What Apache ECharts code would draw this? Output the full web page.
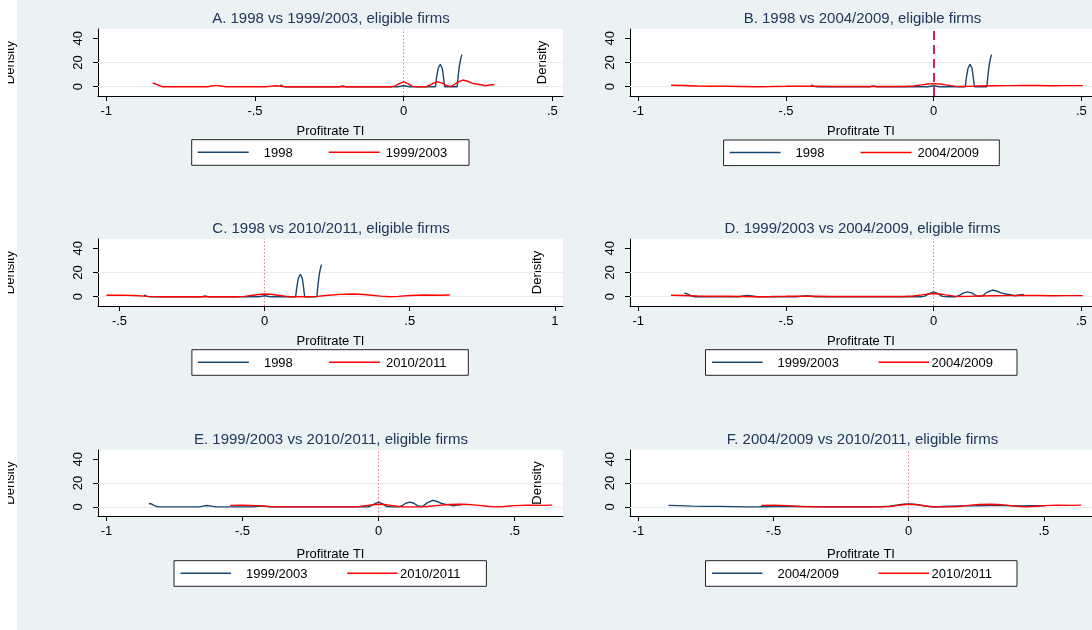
<!DOCTYPE html>
<html><head><meta charset="utf-8">
<script src="https://cdn.jsdelivr.net/npm/echarts@6/dist/echarts.min.js"></script>
<style>html,body{margin:0;padding:0;background:#fff}#c{width:1092px;height:630px}</style>
</head><body><div id="c"></div>
<script>
// ---------------- data ----------------
const x1998 = [-0.415,-0.405,-0.395,-0.30,-0.215,-0.205,-0.195,-0.10,-0.02,0.0,0.02,0.10,0.107,0.111,0.116,0.123,0.130,0.134,0.138,0.18,0.184,0.188,0.192,0.196];
const d1998 = [1.5,0.3,0,0,0,0.6,0,0,0,0.8,0,0,0,8,15,18.5,15,8,0,0,10,18,23,26.5];

const x9903 = [-0.844,-0.835,-0.825,-0.812,-0.70,-0.66,-0.645,-0.631,-0.615,-0.597,-0.50,-0.463,-0.445,-0.43,-0.415,-0.40,-0.30,-0.20,-0.10,-0.04,-0.03,-0.015,0.0,0.015,0.029,0.05,0.076,0.09,0.10,0.115,0.13,0.143,0.155,0.165,0.18,0.199,0.215,0.23,0.244,0.26,0.275,0.29,0.305];
const d9903 = [2.8,2.4,1.2,0,0,0,0.6,1.1,0.6,0,0,0,0.5,0.8,0.4,0,0,0,0,0,0.5,2.5,4,2.5,0.3,0,0,1.5,3,4,3,1,0.3,0.8,3.5,5.5,4.5,3,2.2,1.6,0.8,1.4,1.8];

const x0409 = [-0.889,-0.85,-0.80,-0.75,-0.70,-0.65,-0.60,-0.55,-0.50,-0.45,-0.40,-0.35,-0.30,-0.25,-0.20,-0.15,-0.10,-0.07,-0.04,-0.02,0.0,0.02,0.04,0.07,0.09,0.12,0.15,0.20,0.25,0.30,0.35,0.40,0.45,0.50,0.505];
const d0409 = [1.2,1.0,0.6,0.4,0.4,0.2,0.0,0.1,0.3,0.4,0.3,0.2,0.1,0.1,0.1,0.1,0.2,0.6,1.5,2.2,2.5,2.2,1.5,0.5,0.1,0.3,0.6,0.8,0.9,1.1,1.0,0.8,0.9,0.9,0.9];

const x1011 = [-0.545,-0.50,-0.45,-0.40,-0.35,-0.30,-0.20,-0.10,-0.07,-0.04,-0.02,0.0,0.02,0.04,0.07,0.09,0.12,0.15,0.18,0.22,0.26,0.30,0.33,0.36,0.40,0.43,0.46,0.50,0.55,0.60,0.638];
const d1011 = [1.2,1.3,1.0,0.3,0.0,0.0,0.0,0.0,0.3,1.2,1.8,2.2,2.0,1.4,0.5,0.0,0.0,0.0,0.3,1.2,1.9,2.2,2.0,1.4,0.5,0.0,0.3,1.0,1.4,1.2,1.4];

const panelTitles = [
  'A. 1998 vs 1999/2003, eligible firms',
  'B. 1998 vs 2004/2009, eligible firms',
  'C. 1998 vs 2010/2011, eligible firms',
  'D. 1999/2003 vs 2004/2009, eligible firms',
  'E. 1999/2003 vs 2010/2011, eligible firms',
  'F. 2004/2009 vs 2010/2011, eligible firms'
];
const panelPairs = [
  ['1998','1999/2003'],
  ['1998','2004/2009'],
  ['1998','2010/2011'],
  ['1999/2003','2004/2009'],
  ['1999/2003','2010/2011'],
  ['2004/2009','2010/2011']
];
const xTicksMain = [-1,-0.5,0,0.5];
const xTickLabelsMain = ['-1','-.5','0','.5'];
const xTicksC = [-0.5,0,0.5,1];
const xTickLabelsC = ['-.5','0','.5','1'];
const yTicks = [0,20,40];
const yTickLabels = ['0','20','40'];
const xAxisTitle = 'Profitrate TI';
const yAxisTitle = 'Density';

// ---------------- layout / style ----------------
const curves = {
  '1998': x1998.map((x,i)=>[x,d1998[i]]),
  '1999/2003': x9903.map((x,i)=>[x,d9903[i]]),
  '2004/2009': x0409.map((x,i)=>[x,d0409[i]]),
  '2010/2011': x1011.map((x,i)=>[x,d1011[i]])
};
const FONT = '"Liberation Sans", Arial, sans-serif';
const NAVY = '#1a476f', RED = '#ff0000', TITLE = '#22375c';
const colLeft = [98, 630], plotW = 465;
const rowTop = [29, 239, 450], rowH = [67, 67, 66];
const titleCY = [20, 230, 441];
const titleCX = [331, 862.5];
const xNameGap = [29, 29, 32];
const panels = [
  {xr:[-1.028,0.536], t:'m', v:'dot', yg:81, leg:[191.7,139.7,277.3,1]},
  {xr:[-1.028,0.536], t:'m', v:'dash', yg:81, leg:[723.6,140,275.7,1]},
  {xr:[-0.574,1.028], t:'c', v:'dot', yg:81, leg:[191.9,349.7,276.4,1]},
  {xr:[-1.028,0.536], t:'m', v:'dot', yg:86, leg:[705.5,349.7,311.5,2]},
  {xr:[-1.031,0.678], t:'m', v:'dot', yg:81, leg:[174,560.7,312.4,2]},
  {xr:[-1.031,0.678], t:'m', v:'dot', yg:86, leg:[705.5,560.7,311.5,2]}
];
const legOff = {1:{l1:[6,57],t1:72,l2:[137,188],t2:194}, 2:{l1:[6.5,57],t1:72,l2:[173,223.5],t2:226}};

const grids=[], xAxes=[], yAxes=[], series=[], titles=[], graphics=[];
graphics.push({type:'rect', shape:{x:0,y:0,width:17,height:630}, style:{fill:'#ffffff'}, z:-10, silent:true});
panels.forEach((p,i)=>{
  const row = Math.floor(i/2), col = i%2;
  grids.push({left:colLeft[col], top:rowTop[row], width:plotW, height:rowH[row], show:true, backgroundColor:'#ffffff', borderWidth:0, containLabel:false});
  const tv = p.t==='m'?xTicksMain:xTicksC, tl = p.t==='m'?xTickLabelsMain:xTickLabelsC;
  xAxes.push({type:'value', gridIndex:i, min:p.xr[0], max:p.xr[1],
    name:xAxisTitle, nameLocation:'middle', nameGap:xNameGap[row],
    nameTextStyle:{fontFamily:FONT, fontSize:13, color:'#000'},
    axisLine:{show:true, onZero:false, lineStyle:{color:'#000', width:1}},
    axisTick:{show:true, customValues:tv, length:5, lineStyle:{color:'#000'}},
    axisLabel:{show:true, customValues:tv, margin:9, fontFamily:FONT, fontSize:13, color:'#000',
      formatter:(v)=>{const k=tv.findIndex(t=>Math.abs(t-v)<1e-9); return k>=0?tl[k]:'';}},
    splitLine:{show:false}});
  yAxes.push({type:'value', gridIndex:i, min:-7.7, max:47.7,
    name:yAxisTitle, nameLocation:'middle', nameRotate:90, nameGap:p.yg,
    nameTextStyle:{fontFamily:FONT, fontSize:13, color:'#000'},
    axisLine:{show:true, onZero:false, lineStyle:{color:'#000', width:1}},
    axisTick:{show:true, customValues:yTicks, length:5, lineStyle:{color:'#000'}},
    axisLabel:{show:true, customValues:yTicks, rotate:90, margin:13, fontFamily:FONT, fontSize:13, color:'#000',
      formatter:(v)=>{const k=yTicks.findIndex(t=>Math.abs(t-v)<1e-9); return k>=0?yTickLabels[k]:'';}},
    splitLine:{show:false}});
  const vStyle = p.v==='dash' ? {color:'#c8284e', width:2, type:[9,5]} : {color:'#e8769a', width:1, type:[1.5,2]};
  series.push({type:'line', xAxisIndex:i, yAxisIndex:i, data:[[p.xr[0],-100]], showSymbol:false, silent:true,
    lineStyle:{width:0}, z:1, animation:false,
    markLine:{silent:true, z:1, symbol:['none','none'], label:{show:false}, animation:false,
      data:[
        {yAxis:0, lineStyle:{color:'#e4ecef', width:1, type:'solid'}},
        {yAxis:20, lineStyle:{color:'#e4ecef', width:1, type:'solid'}},
        {xAxis:0, lineStyle:vStyle}
      ]}});
  panelPairs[i].forEach((nm,j)=>{
    series.push({type:'line', name:nm, xAxisIndex:i, yAxisIndex:i, data:curves[nm], showSymbol:false,
      smooth:false, z:10+j, animation:false, lineStyle:{color:j===0?NAVY:RED, width:1.4}, itemStyle:{color:j===0?NAVY:RED}});
  });
  titles.push({text:panelTitles[i], left:titleCX[col], top:titleCY[row]-9, textAlign:'center', padding:0,
    textStyle:{fontFamily:FONT, fontSize:15, fontWeight:'normal', color:TITLE}});
  // legend box
  const [L,T,W,tp] = p.leg, o = legOff[tp], H = 25.6;
  graphics.push({type:'rect', shape:{x:L,y:T,width:W,height:H}, style:{fill:'#fff', stroke:'#222', lineWidth:1}, z:100, silent:true});
  graphics.push({type:'line', shape:{x1:L+o.l1[0], y1:T+12.5, x2:L+o.l1[1], y2:T+12.5}, style:{stroke:NAVY, lineWidth:1.5}, z:101, silent:true});
  graphics.push({type:'line', shape:{x1:L+o.l2[0], y1:T+12.5, x2:L+o.l2[1], y2:T+12.5}, style:{stroke:RED, lineWidth:1.5}, z:101, silent:true});
  graphics.push({type:'text', x:L+o.t1, y:T+13.5, style:{text:panelPairs[i][0], font:'13px '+FONT, fill:'#000', textVerticalAlign:'middle', verticalAlign:'middle'}, z:101, silent:true});
  graphics.push({type:'text', x:L+o.t2, y:T+13.5, style:{text:panelPairs[i][1], font:'13px '+FONT, fill:'#000', textVerticalAlign:'middle', verticalAlign:'middle'}, z:101, silent:true});
});
graphics.push({type:'rect', shape:{x:0,y:0,width:8,height:630}, style:{fill:'#ffffff'}, z:200, silent:true});

const chart = echarts.init(document.getElementById('c'));
chart.setOption({
  backgroundColor:'#eaf2f3',
  animation:false,
  title:titles,
  grid:grids, xAxis:xAxes, yAxis:yAxes, series:series,
  graphic:{elements:graphics}
});
</script></body></html>
